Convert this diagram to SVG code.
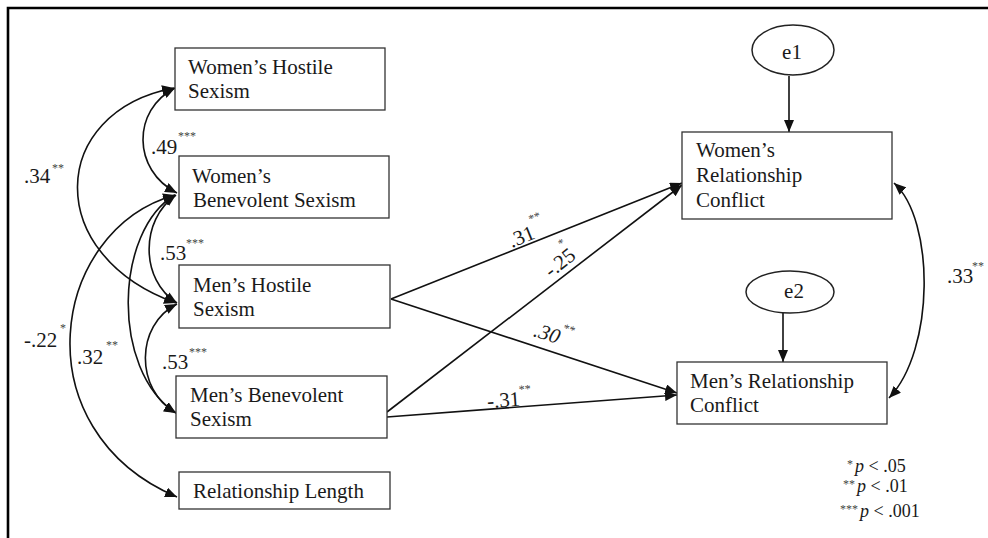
<svg xmlns="http://www.w3.org/2000/svg" width="988" height="538" viewBox="0 0 988 538">
<style>
text{font-family:"Liberation Serif","Times New Roman",serif;fill:#1a1a1a}
.t{font-size:21px}
.s{font-size:12px;fill:#444}
.lg{font-size:18px}
.box{fill:#fff;stroke:#333;stroke-width:1.3}
.ell{fill:#fff;stroke:#222;stroke-width:1.5}
.c{fill:none;stroke:#111;stroke-width:1.6}
.frame{stroke:#000;stroke-width:2.6;fill:none}
</style>
<defs>
<marker id="ah" viewBox="0 0 12 10" refX="12" refY="5" markerWidth="12" markerHeight="10" markerUnits="userSpaceOnUse" orient="auto-start-reverse">
<path d="M0,0 L12,5 L0,10 z" fill="#111"/>
</marker>
</defs>
<rect width="988" height="538" fill="#fff"/>
<path class="frame" d="M8,538 L8,8 L988,8"/>

<g id="connectors">
<path class="c" d="M175,88 C132,110 132,170 177,193" marker-start="url(#ah)" marker-end="url(#ah)"/>
<path class="c" d="M174,88 C48,112 42,255 176,303" marker-start="url(#ah)" marker-end="url(#ah)"/>
<path class="c" d="M176,195 C140,220 140,280 177,303" marker-start="url(#ah)" marker-end="url(#ah)"/>
<path class="c" d="M175,195 C115,230 110,370 176,413" marker-start="url(#ah)" marker-end="url(#ah)"/>
<path class="c" d="M175,195 C50,230 20,430 177,497" marker-start="url(#ah)" marker-end="url(#ah)"/>
<path class="c" d="M177,304 C135,325 135,390 176,413" marker-start="url(#ah)" marker-end="url(#ah)"/>
<path class="c" d="M894,183 C935,220 935,350 889,398" marker-start="url(#ah)" marker-end="url(#ah)"/>
<path class="c" d="M391,299 L682,183" marker-end="url(#ah)"/>
<path class="c" d="M387,412 L682,185" marker-end="url(#ah)"/>
<path class="c" d="M391,299 L677,393" marker-end="url(#ah)"/>
<path class="c" d="M387,417 L677,395" marker-end="url(#ah)"/>
<path class="c" d="M789,76 L789,132" marker-end="url(#ah)"/>
<path class="c" d="M783,313 L783,362" marker-end="url(#ah)"/>
</g>

<g id="labels">
<text class="t" x="151" y="154">.49</text><text class="s" x="178" y="140">***</text>
<text class="t" x="24" y="183">.34</text><text class="s" x="52" y="172">**</text>
<text class="t" x="160" y="260">.53</text><text class="s" x="186" y="247">***</text>
<text class="t" x="24" y="347">-.22</text><text class="s" x="60" y="332">*</text>
<text class="t" x="77" y="364">.32</text><text class="s" x="106" y="349">**</text>
<text class="t" x="162" y="369">.53</text><text class="s" x="189" y="356">***</text>
<text class="t" x="947" y="283">.33</text><text class="s" x="972" y="270">**</text>
<text class="t" text-anchor="middle" transform="translate(524,243) rotate(-22)">.31</text>
<text class="s" text-anchor="middle" transform="translate(536,221) rotate(-22)">**</text>
<text class="t" text-anchor="middle" transform="translate(564,268) rotate(-38)">-.25</text>
<text class="s" text-anchor="middle" transform="translate(564,246) rotate(-38)">*</text>
<text class="t" font-style="italic" text-anchor="middle" transform="translate(545,340) rotate(18)">.30</text>
<text class="s" text-anchor="middle" transform="translate(568,333) rotate(18)">**</text>
<text class="t" text-anchor="middle" transform="translate(504,407) rotate(-4)">-.31</text>
<text class="s" text-anchor="middle" transform="translate(525,393) rotate(-4)">**</text>
</g>

<g id="whs"><rect class="box" x="175" y="48" width="210" height="62"/>
<text class="t" x="188" y="74">Women’s Hostile</text><text class="t" x="188" y="98">Sexism</text></g>
<g id="wbs"><rect class="box" x="179" y="156" width="210" height="62"/>
<text class="t" x="192" y="183">Women’s</text><text class="t" x="193" y="207">Benevolent Sexism</text></g>
<g id="mhs"><rect class="box" x="179" y="265" width="211" height="63"/>
<text class="t" x="193" y="292">Men’s Hostile</text><text class="t" x="193" y="316">Sexism</text></g>
<g id="mbs"><rect class="box" x="176" y="376" width="211" height="62"/>
<text class="t" x="190" y="402">Men’s Benevolent</text><text class="t" x="190" y="426">Sexism</text></g>
<g id="rl"><rect class="box" x="179" y="472" width="211" height="37"/>
<text class="t" x="193" y="498">Relationship Length</text></g>
<g id="wrc"><rect class="box" x="682" y="132" width="210" height="87"/>
<text class="t" x="696" y="157">Women’s</text><text class="t" x="696" y="182">Relationship</text><text class="t" x="696" y="207">Conflict</text></g>
<g id="mrc"><rect class="box" x="677" y="362" width="210" height="62"/>
<text class="t" x="690" y="388">Men’s Relationship</text><text class="t" x="690" y="412">Conflict</text></g>
<g id="e1"><ellipse class="ell" cx="793" cy="50" rx="41" ry="25"/>
<text class="t" x="792" y="59" text-anchor="middle">e1</text></g>
<g id="e2"><ellipse class="ell" cx="790" cy="292" rx="44" ry="21"/>
<text class="t" x="794" y="298" text-anchor="middle">e2</text></g>

<g id="legend">
<text class="s" x="853" y="468" text-anchor="end">*</text><text class="lg" x="855" y="472"><tspan font-style="italic">p</tspan> &lt; .05</text>
<text class="s" x="855" y="488" text-anchor="end">**</text><text class="lg" x="857" y="492"><tspan font-style="italic">p</tspan> &lt; .01</text>
<text class="s" x="858" y="513" text-anchor="end">***</text><text class="lg" x="860" y="517"><tspan font-style="italic">p</tspan> &lt; .001</text>
</g>
</svg>
